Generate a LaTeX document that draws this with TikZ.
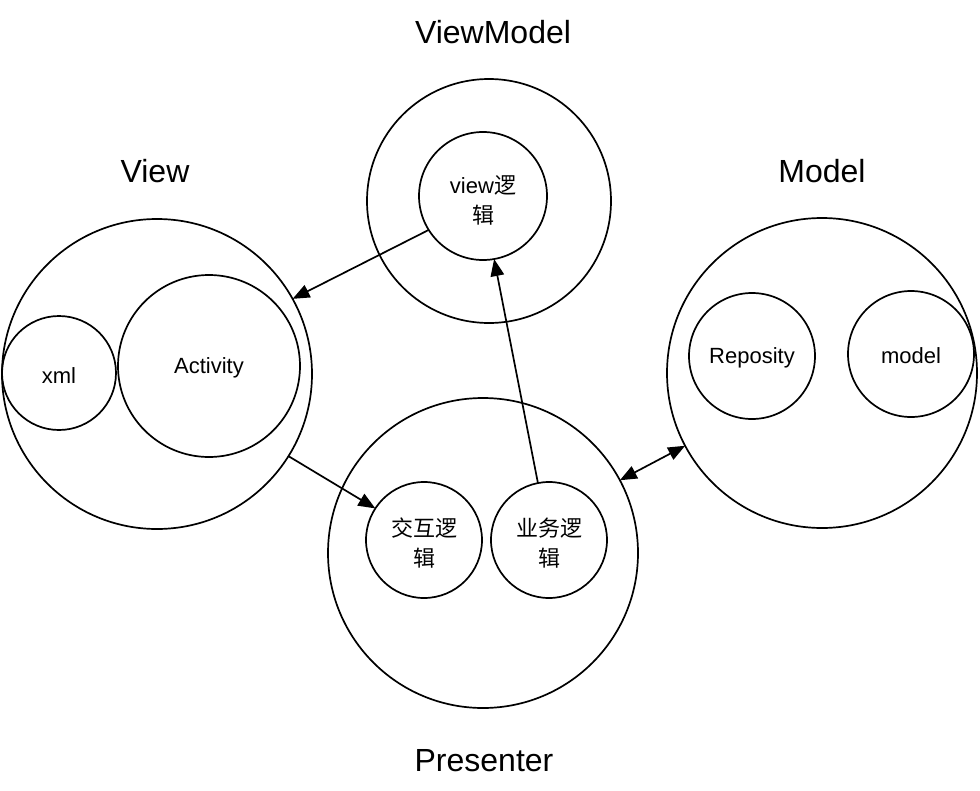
\documentclass[tikz,border=0pt]{standalone}
\usepackage{fontspec}
\setmainfont{Liberation Sans}
\newfontfamily\cjk{Noto Sans CJK SC}
\usetikzlibrary{arrows.meta}
\begin{document}
\begin{tikzpicture}[x=1pt,y=-1pt,
  circ/.style={draw, circle, line width=1.7pt, inner sep=0pt, outer sep=0pt},
  big/.style={font=\fontsize{32}{36}\selectfont, inner sep=0pt},
  txt/.style={font=\fontsize{22}{30}\selectfont, inner sep=0pt, align=center},
  conn/.style={line width=1.7pt, -{Triangle[length=17pt,width=13.5pt]}},
  bconn/.style={line width=1.7pt, {Triangle[length=17pt,width=13.5pt]}-{Triangle[length=17pt,width=13.5pt]}}]
\useasboundingbox (0,0) rectangle (980,790);
% outer circles
\node[circ, minimum size=310pt] (view) at (157,374) {};
\node[circ, minimum size=244pt] (vm) at (489,201) {};
\node[circ, minimum size=310pt] (model) at (822,373) {};
\node[circ, minimum size=310pt] (pres) at (483,553) {};
% inner circles
\node[circ, minimum size=114pt] (xml) at (59,373) {};
\node[circ, minimum size=182pt] (act) at (209,366) {};
\node[circ, minimum size=128pt] (vl) at (483,196) {};
\node[circ, minimum size=126pt] (repo) at (752,356) {};
\node[circ, minimum size=126pt] (mdl) at (911,354) {};
\node[circ, minimum size=116pt] (jh) at (424,540) {};
\node[circ, minimum size=116pt] (yw) at (549,540) {};
% titles
\node[big] (tvm) at (493,32) {ViewModel};
\node[big] (tv) at (155,171) {View};
\node[big] (tm) at (822,171) {Model};
\node[big] (tp) at (484,761) {Presenter};
% inner texts
\node[txt] (txml) at (59,376) {xml};
\node[txt] (tact) at (209,368) {Activity};
\node[txt] (trepo) at (752,358) {Reposity};
\node[txt] (tmdl) at (911,356) {model};
\node[txt] (tvl) at (483,200) {view{\cjk 逻}\\{\cjk 辑}};
\node[txt] (tjh) at (424,543) {{\cjk 交互逻}\\{\cjk 辑}};
\node[txt] (tyw) at (549,543) {{\cjk 业务逻}\\{\cjk 辑}};
% connectors
\draw[conn] (vl.212) -- (view.29);
\draw[conn] (yw.101) -- (vl.280);
\draw[conn] (view.328) -- (jh.147);
\draw[bconn] (pres.28) -- (model.208);
\end{tikzpicture}
\end{document}
